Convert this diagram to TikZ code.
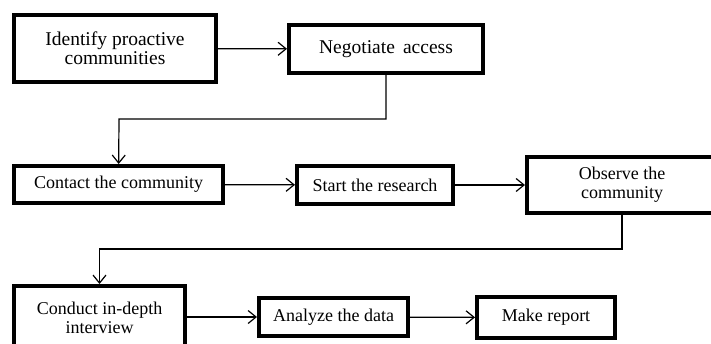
\documentclass[tikz,border=0pt]{standalone}
\usepackage{fontspec}
\setmainfont{Liberation Serif}
\usepackage{tikz}
\usetikzlibrary{arrows.meta,shadows}

\begin{document}
\begin{tikzpicture}[x=1pt,y=-1pt,
        stage/.style={draw,line width=4pt,fill=white,inner sep=0pt,align=center,
            font=\fontsize{18}{19}\selectfont,
            drop shadow={shadow xshift=1.5pt,shadow yshift=-1.5pt,opacity=.3}},
        flow/.style={line width=1.2pt,-{Straight Barb[length=8pt,width=13pt,line width=1.2pt]}}]
        \useasboundingbox (0,0) rectangle (711,343);
        \clip (0,0) rectangle (711,343);

        \node[stage,minimum width=202pt,minimum height=67pt,font=\fontsize{19.5}{19}\selectfont] (ident) at (115,48.5) {Identify proactive\\communities};
        \node[stage,minimum width=194pt,minimum height=48pt,font=\fontsize{19.5}{19}\selectfont] (nego) at (386,49) {Negotiate\, access};
        \node[stage,minimum width=209pt,minimum height=37pt] (contact) at (118.5,184.5) {Contact the community};
        \node[stage,minimum width=156pt,minimum height=38pt] (start) at (375,185) {Start the research};
        \node[stage,minimum width=190pt,minimum height=56pt] (observe) at (622,185) {Observe the\\community};
        \node[stage,minimum width=171pt,minimum height=64pt] (conduct) at (99.5,318) {Conduct in-depth\\interview};
        \node[stage,minimum width=149pt,minimum height=38pt] (analyze) at (333.5,317) {Analyze the data};
        \node[stage,minimum width=138pt,minimum height=41pt] (report) at (546,317.5) {Make report};

        \coordinate (bendA) at (386,119);
        \coordinate (bendB) at (119,119);
        \coordinate (bendC) at (622,249);
        \coordinate (bendD) at (99.5,249);

        \draw[flow] (ident) -- (nego);
        \draw[flow] (nego) -- (bendA) -- (bendB) -- (contact);
        \draw[flow] (contact) -- (start);
        \draw[flow] (start) -- (observe);
        \draw[flow] (observe) -- (bendC) -- (bendD) -- (conduct);
        \draw[flow] (conduct.east |- analyze) -- (analyze);
        \draw[flow] (analyze) -- (report);
    \end{tikzpicture}
\end{document}
